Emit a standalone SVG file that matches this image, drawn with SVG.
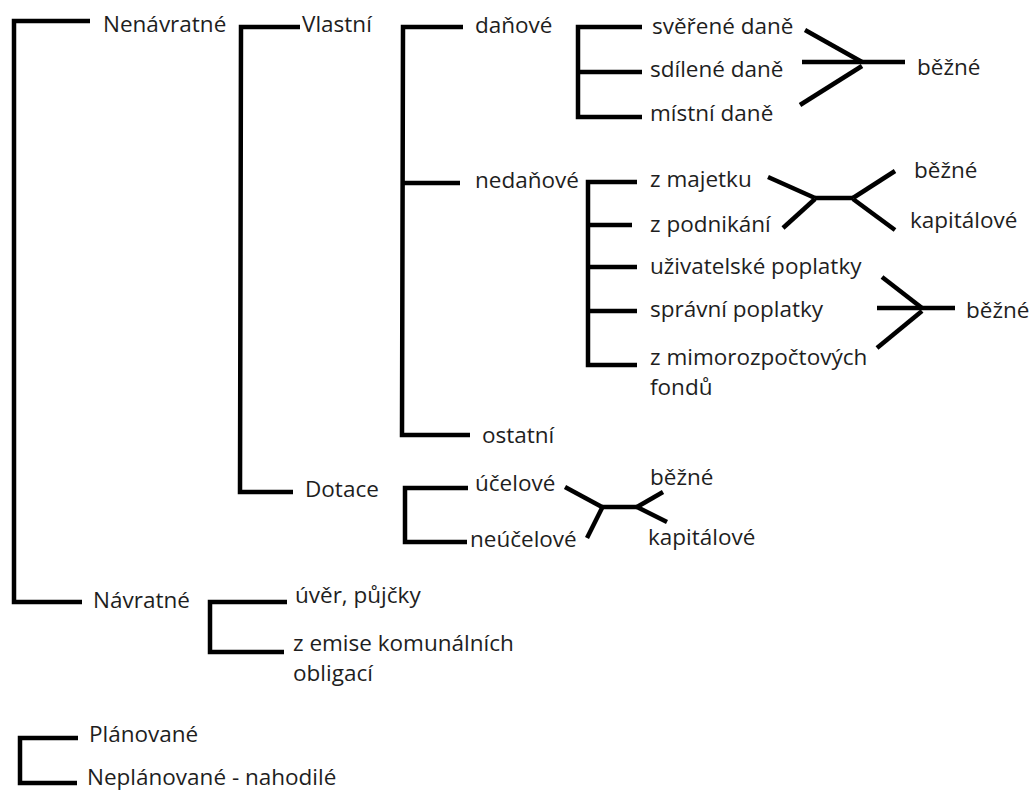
<svg xmlns="http://www.w3.org/2000/svg" width="1032" height="790" viewBox="0 0 1032 790">
<style>
text{font-family:"Open Sans","Noto Sans","Liberation Sans",sans-serif;font-size:22.5px;fill:#1e1e1e}
.c{fill:none;stroke:#000;stroke-width:4.5;stroke-linecap:butt;stroke-linejoin:miter}
</style>
<rect width="1032" height="790" fill="#fff"/>
<g id="connectors" class="c">
<polyline points="90,21 14,21 14,602 82,602"/>
<polyline points="300,27 241,27 240,492 293,492"/>
<polyline points="463,27 403,27 402,435 470,435"/>
<line x1="402" y1="183" x2="460" y2="183"/>
<polyline points="642,27 578,27 578,117 642,117"/>
<line x1="578" y1="72" x2="642" y2="72"/>
<polyline points="637,182 588,182 588,365 637,365"/>
<line x1="588" y1="225" x2="632" y2="225"/>
<line x1="588" y1="267" x2="637" y2="267"/>
<line x1="588" y1="311" x2="637" y2="311"/>
<polyline points="468,488 405,488 405,542 467,542"/>
<polyline points="287,602 210,602 210,652 284,652"/>
<polyline points="78,738 20,738 20,783 77,783"/>
<line x1="805" y1="30" x2="862" y2="62"/>
<line x1="802" y1="62" x2="905" y2="62"/>
<line x1="800" y1="105" x2="862" y2="66"/>
<line x1="768" y1="177" x2="815" y2="198"/>
<line x1="783" y1="228" x2="815" y2="199"/>
<line x1="815" y1="198" x2="853" y2="198"/>
<line x1="853" y1="198" x2="895" y2="171"/>
<line x1="853" y1="199" x2="895" y2="230"/>
<line x1="882" y1="277" x2="922" y2="308"/>
<line x1="877" y1="348" x2="922" y2="311"/>
<line x1="877" y1="308" x2="955" y2="308"/>
<line x1="565" y1="487" x2="602" y2="507"/>
<line x1="587" y1="538" x2="603" y2="506"/>
<line x1="602" y1="507" x2="637" y2="507"/>
<line x1="637" y1="507" x2="663" y2="492"/>
<line x1="637" y1="507" x2="667" y2="522"/>
</g>
<g id="n-nenavratne"><text x="103" y="32">Nenávratné</text></g>
<g id="n-navratne"><text x="93" y="608">Návratné</text></g>
<g id="n-vlastni"><text x="302" y="32">Vlastní</text></g>
<g id="n-dotace"><text x="305" y="497">Dotace</text></g>
<g id="n-danove"><text x="475" y="33">daňové</text></g>
<g id="n-nedanove"><text x="475" y="188">nedaňové</text></g>
<g id="n-ostatni"><text x="482" y="443">ostatní</text></g>
<g id="n-sverene"><text x="652" y="34">svěřené daně</text></g>
<g id="n-sdilene"><text x="650" y="77">sdílené daně</text></g>
<g id="n-mistni"><text x="650" y="121">místní daně</text></g>
<g id="n-bezne1"><text x="917" y="75">běžné</text></g>
<g id="n-majetek"><text x="650" y="187">z majetku</text></g>
<g id="n-podnikani"><text x="650" y="232">z podnikání</text></g>
<g id="n-bezne2"><text x="914" y="178">běžné</text></g>
<g id="n-kapitalove2"><text x="910" y="228">kapitálové</text></g>
<g id="n-uzivatelske"><text x="650" y="274">uživatelské poplatky</text></g>
<g id="n-spravni"><text x="650" y="317">správní poplatky</text></g>
<g id="n-mimo"><text x="650" y="365">z mimorozpočtových</text><text x="650" y="395">fondů</text></g>
<g id="n-bezne3"><text x="966" y="318">běžné</text></g>
<g id="n-ucelove"><text x="475" y="491">účelové</text></g>
<g id="n-neucelove"><text x="470" y="547">neúčelové</text></g>
<g id="n-bezne4"><text x="650" y="485">běžné</text></g>
<g id="n-kapitalove4"><text x="648" y="545">kapitálové</text></g>
<g id="n-uver"><text x="295" y="603">úvěr, půjčky</text></g>
<g id="n-emise"><text x="293" y="651">z emise komunálních</text><text x="293" y="681">obligací</text></g>
<g id="n-planovane"><text x="89" y="742">Plánované</text></g>
<g id="n-neplanovane"><text x="87" y="785">Neplánované - nahodilé</text></g>
</svg>
